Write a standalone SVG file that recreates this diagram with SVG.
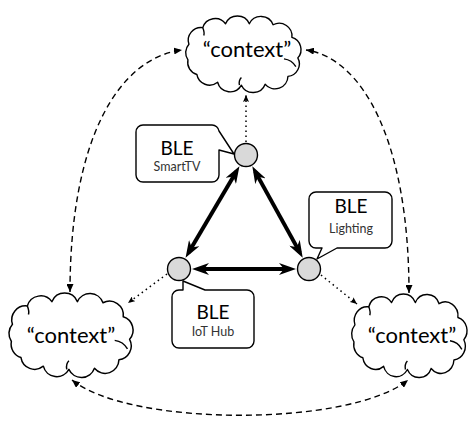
<svg xmlns="http://www.w3.org/2000/svg" width="474" height="424" viewBox="0 0 474 424">
  <style>
    .cloud { fill: #ffffff; stroke: #000; stroke-width: 1.4; stroke-linejoin: round; }
    .curl { fill: none; stroke: #000; stroke-width: 1.4; }
    .ctx { font-family: Lato, "Open Sans", sans-serif; font-size: 22px; text-anchor: middle; fill: #000; }
    .dev { fill: #d9d9d9; stroke: #000; stroke-width: 1.4; }
    .callout { fill: #ffffff; stroke: #000; stroke-width: 1.4; stroke-linejoin: round; }
    .ble { font-family: Lato, "Open Sans", sans-serif; font-size: 19px; text-anchor: middle; fill: #000; }
    .sub { font-family: Lato, "Open Sans", sans-serif; font-size: 12.5px; text-anchor: middle; fill: #333; }
    .link { fill: none; stroke: #000; stroke-width: 4; marker-start: url(#bigHead); marker-end: url(#bigHead); }
    .dash { fill: none; stroke: #000; stroke-width: 1.4; stroke-dasharray: 6 4; marker-start: url(#smallHead); marker-end: url(#smallHead); }
    .dot { fill: none; stroke: #000; stroke-width: 1.5; stroke-dasharray: 1.5 3.5; marker-end: url(#dotHead); }
  </style>
  <defs>
    <marker id="bigHead" viewBox="0 0 17 12" refX="11" refY="6" markerWidth="17" markerHeight="12" markerUnits="userSpaceOnUse" orient="auto-start-reverse">
      <path d="M0,0 L17,6 L0,12 L5,6 Z" fill="#000"/>
    </marker>
    <marker id="smallHead" viewBox="0 0 8 7" refX="8" refY="3.5" markerWidth="8" markerHeight="7" markerUnits="userSpaceOnUse" orient="auto-start-reverse">
      <path d="M0,0 L8,3.5 L0,7 Z" fill="#000"/>
    </marker>
    <marker id="dotHead" viewBox="0 0 7 6" refX="7" refY="3" markerWidth="7" markerHeight="6" markerUnits="userSpaceOnUse" orient="auto">
      <path d="M0,0 L7,3 L0,6 L1.5,3 Z" fill="#000"/>
    </marker>
    <!-- scalloped cloud outline in a 124 x 80 box -->
    <path id="cloudShape" d="M7,30 A13,13 0 0 1 21,13 A13,13 0 0 1 44,9 A13,13 0 0 1 68,9 A13,13 0 0 1 92,10 A13,13 0 0 1 111,23 A13,13 0 0 1 117,44 A13,13 0 0 1 107,63 A13,13 0 0 1 84,71 A13,13 0 0 1 60,72 A13,13 0 0 1 36,69 A13,13 0 0 1 15,61 A13,13 0 0 1 6,46 A13,13 0 0 1 7,30 Z"/>
    <path id="cloudCurls" d="M103,45 Q111,46 115,53 M58,72 Q57,67 60,64 M21,13 Q23,18 22,21"/>
  </defs>

  <!-- context clouds -->
  <g id="cloud-top">
    <use href="#cloudShape" class="cloud" transform="translate(182,15) scale(0.99,0.975)"/>
    <use href="#cloudCurls" class="curl" transform="translate(182,15) scale(0.99,0.975)"/>
    <text class="ctx" x="247" y="57">“context”</text>
  </g>
  <g id="cloud-left">
    <use href="#cloudShape" class="cloud" transform="translate(5,292) scale(1.065,1.075)"/>
    <use href="#cloudCurls" class="curl" transform="translate(5,292) scale(1.065,1.075)"/>
    <text class="ctx" x="71" y="343">“context”</text>
  </g>
  <g id="cloud-right">
    <use href="#cloudShape" class="cloud" transform="translate(348,293) scale(0.99,1.0625)"/>
    <use href="#cloudCurls" class="curl" transform="translate(348,293) scale(0.99,1.0625)"/>
    <text class="ctx" x="412" y="343">“context”</text>
  </g>

  <!-- connectors -->
  <g id="connectors">
    <path class="dash" d="M70,292 C70,140 118,58 182,50"/>
    <path class="dash" d="M409,293 C409,140 362,58 306,50"/>
    <path class="dash" d="M72,380 C130,427 350,427 408,380"/>
    <line class="dot" x1="246" y1="142" x2="246" y2="95"/>
    <line class="dot" x1="167" y1="274" x2="128" y2="303"/>
    <line class="dot" x1="321" y1="275" x2="357" y2="304"/>
    <line class="link" x1="236.4" y1="171.4" x2="188.6" y2="252.6"/>
    <line class="link" x1="255.2" y1="171.6" x2="299.8" y2="252.4"/>
    <line class="link" x1="198" y1="269" x2="290" y2="269"/>
  </g>

  <!-- BLE devices with their callouts -->
  <g id="node-smarttv">
    <path class="callout" d="M143,125 H212 A7,7 0 0 1 219,131 L234,154 L219,150 V175 A7,7 0 0 1 212,182 H143 A7,7 0 0 1 136,175 V132 A7,7 0 0 1 143,125 Z"/>
    <text class="ble" x="177" y="155">BLE</text>
    <text class="sub" x="177" y="171">SmartTV</text>
    <circle class="dev" cx="246" cy="155" r="11.5"/>
  </g>
  <g id="node-iothub">
    <path class="callout" d="M179,290 H183 V281 L205,290 H247 A7,7 0 0 1 254,297 V341 A7,7 0 0 1 247,348 H179 A7,7 0 0 1 172,341 V297 A7,7 0 0 1 179,290 Z"/>
    <text class="ble" x="213" y="319">BLE</text>
    <text class="sub" x="213" y="336">IoT Hub</text>
    <circle class="dev" cx="179" cy="269" r="11.5"/>
  </g>
  <g id="node-lighting">
    <path class="callout" d="M316,192 H385 A7,7 0 0 1 392,199 V241 A7,7 0 0 1 385,248 H337 L317,259 L322,248 H316 A7,7 0 0 1 309,241 V199 A7,7 0 0 1 316,192 Z"/>
    <text class="ble" x="351" y="213">BLE</text>
    <text class="sub" x="351" y="233">Lighting</text>
    <circle class="dev" cx="309" cy="269" r="11.5"/>
  </g>
</svg>
